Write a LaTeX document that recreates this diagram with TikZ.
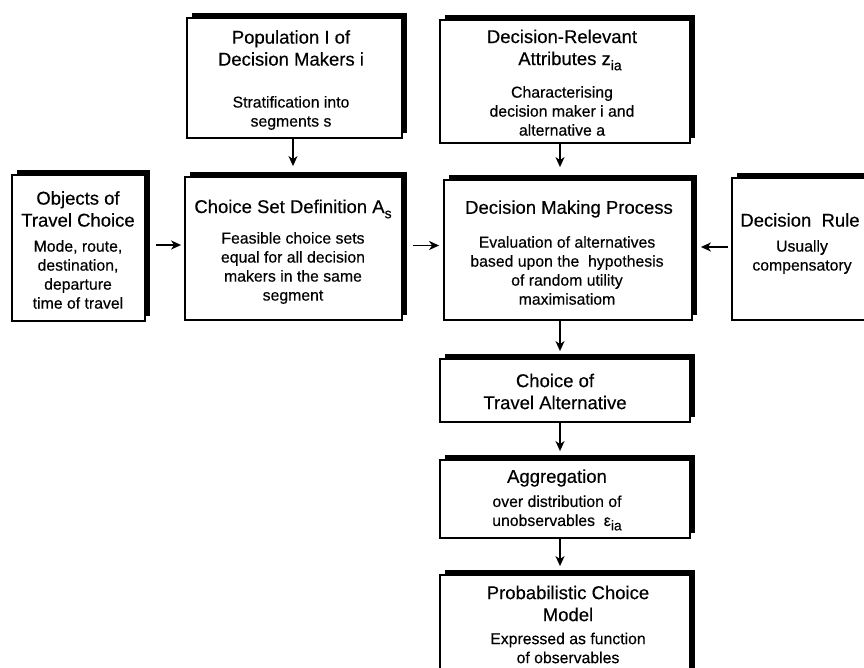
\documentclass[tikz,border=0pt]{standalone}
\usepackage{fontspec}
\setmainfont{Liberation Sans}[FakeBold=0.35]
\usetikzlibrary{arrows.meta,shadows}
% subscript set in a smaller size, dropped below the baseline
\newcommand{\lowsub}[1]{\raisebox{-0.28em}{\fontsize{14}{14}\selectfont #1}}
\begin{document}
\begin{tikzpicture}[x=1pt,y=-1pt,
  box/.style={draw=black, line width=1.8pt, fill=white, inner sep=0pt,
    drop shadow={shadow xshift=5pt, shadow yshift=5pt, fill=black, opacity=1}},
  title/.style={align=center, inner sep=0pt, font=\fontsize{18.5}{22}\selectfont},
  body/.style={align=center, inner sep=0pt, font=\fontsize{15.8}{19}\selectfont},
  flow/.style={line width=1.9pt, -{Stealth[length=10pt,width=9pt,inset=3pt]}}]
\useasboundingbox (0,0) rectangle (864,668);
\fill[white] (0,0) rectangle (864,668);

% boxes
\node[box, minimum width=215pt, minimum height=120pt] (pop)  at (294.5,78)  {};
\node[box, minimum width=250pt, minimum height=123pt] (drp)  at (565,81.5)  {};
\node[box, minimum width=133pt, minimum height=146pt] (obj)  at (78.5,248)  {};
\node[box, minimum width=217pt, minimum height=143pt] (csd)  at (293.5,248.5) {};
\node[box, minimum width=248pt, minimum height=140pt] (dmp)  at (568,250)   {};
\node[box, minimum width=168pt, minimum height=142pt] (rule) at (816,249)   {};
\node[box, minimum width=250pt, minimum height=63pt]  (cta)  at (565,390.5) {};
\node[box, minimum width=250pt, minimum height=78pt]  (agg)  at (565,499)   {};
\node[box, minimum width=250pt, minimum height=115pt] (pcm)  at (565,632.5) {};

% texts
\node[title] (popT) at (291,48) {Population I of\\Decision Makers i};
\node[body]  (popB) at (291,113) {Stratification into\\segments s};

\node[title] (drpT) at (562,50) {Decision-Relevant\\\hspace*{16pt}Attributes z\lowsub{ia}};
\node[body]  (drpB) at (562,111) {Characterising\\decision maker i and\\alternative a};

\node[title] (objT) at (78,209) {Objects of\\Travel Choice};
\node[body]  (objB) at (78,274.5) {Mode, route,\\destination,\\departure\\time of travel};

\node[title] (csdT) at (293,209) {Choice Set Definition A\lowsub{s}};
\node[body]  (csdB) at (293,268) {Feasible choice sets\\equal for all decision\\makers in the same\\segment};

\node[title] (dmpT) at (569,209) {Decision Making Process};
\node[body]  (dmpB) at (567,270.5) {Evaluation of alternatives\\based upon the\ \ hypothesis\\of random utility\\maximisatiom};

\node[title] (ruleT) at (800,220) {Decision\ \ Rule};
\node[body]  (ruleB) at (802,257) {Usually\\compensatory};

\node[title] (ctaT) at (555,391.5) {Choice of\\Travel Alternative};

\node[title] (aggT) at (557,478) {Aggregation};
\node[body]  (aggB) at (557,513) {over distribution of\\unobservables\ \ ε\lowsub{ia}};

\node[title] (pcmT) at (568,603.5) {Probabilistic Choice\\Model};
\node[body]  (pcmB) at (568,648) {Expressed as function\\of observables};

% connectors
\draw[flow, shorten >=10pt] ([xshift=-1.5pt]pop.south) -- ([xshift=-1.5pt]pop.south |- csd.north);
\draw[flow, shorten >=12pt] ([xshift=-5pt]drp.south) -- ([xshift=-5pt]drp.south |- dmp.north);
\draw[flow, shorten <=10pt, shorten >=3pt] ([yshift=3pt]obj.east) -- ([yshift=3pt]obj.east -| csd.west);
\draw[flow, shorten <=10pt, shorten >=4pt] ([yshift=3pt]csd.east) -- ([yshift=3pt]csd.east -| dmp.west);
\draw[flow, shorten <=3pt, shorten >=8pt] ([yshift=2pt]rule.west) -- ([yshift=2pt]rule.west -| dmp.east);
\draw[flow, shorten >=7pt] ([xshift=-8pt]dmp.south) -- ([xshift=-8pt]dmp.south |- cta.north);
\draw[flow, shorten >=8pt] ([xshift=-5pt]cta.south) -- ([xshift=-5pt]cta.south |- agg.north);
\draw[flow, shorten >=8pt] ([xshift=-5pt]agg.south) -- ([xshift=-5pt]agg.south |- pcm.north);
\end{tikzpicture}
\end{document}
